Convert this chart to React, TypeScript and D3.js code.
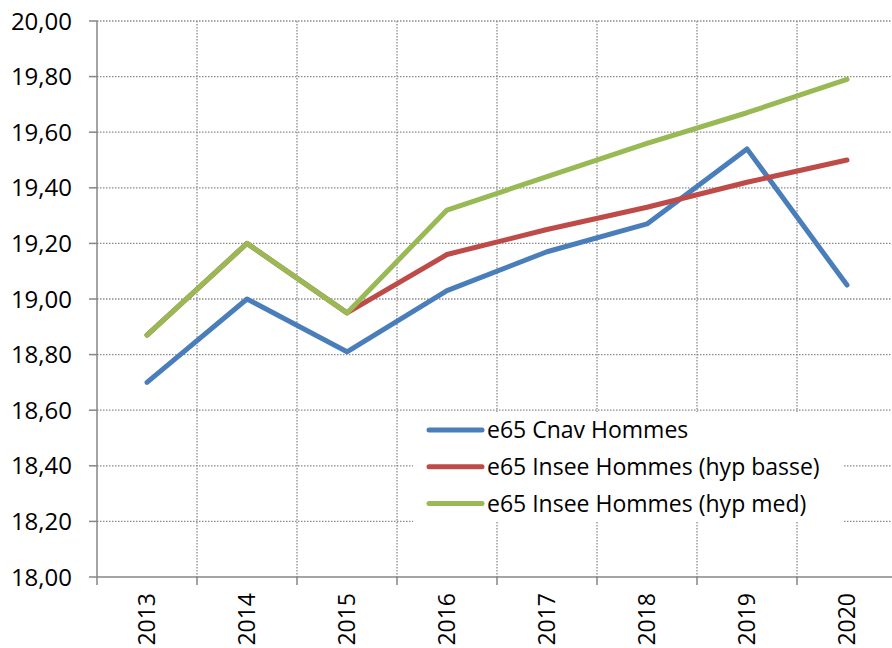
import * as d3 from "d3";
import React, { useEffect, useRef } from "react";

const years = ["2013", "2014", "2015", "2016", "2017", "2018", "2019", "2020"];
const cnavHommes = [18.7, 19.0, 18.81, 19.03, 19.17, 19.27, 19.54, 19.05];
const inseeBasse = [18.87, 19.2, 18.95, 19.16, 19.25, 19.33, 19.42, 19.5];
const inseeMed = [18.87, 19.2, 18.95, 19.32, 19.44, 19.56, 19.67, 19.79];
const yTicks = [18.0, 18.2, 18.4, 18.6, 18.8, 19.0, 19.2, 19.4, 19.6, 19.8, 20.0];
const seriesNames = [
  "e65 Cnav Hommes",
  "e65 Insee Hommes (hyp basse)",
  "e65 Insee Hommes (hyp med)",
];
const seriesColors = ["#4A7EBB", "#BE4B48", "#98B954"];

export default function App() {
  const ref = useRef<SVGSVGElement>(null);

  const width = 892,
    height = 648;
  const plot = { left: 97, right: 897, top: 21, bottom: 577 };
  const font = "'Open Sans', Lato, sans-serif";
  const axisColor = "#868686";

  useEffect(() => {
    const svg = d3.select(ref.current);
    svg.selectAll("*").remove();

    const x = d3.scaleBand().domain(years).range([plot.left, plot.right]).padding(0);
    const y = d3.scaleLinear().domain([18, 20]).range([plot.bottom, plot.top]);
    const cx = (yr: string) => (x(yr) as number) + x.bandwidth() / 2;

    // horizontal grid
    svg
      .append("g")
      .selectAll("line")
      .data(yTicks.slice(1))
      .join("line")
      .attr("x1", plot.left)
      .attr("x2", plot.right)
      .attr("y1", (d) => y(d))
      .attr("y2", (d) => y(d))
      .attr("stroke", "#8c8c8c")
      .attr("stroke-width", 1.3)
      .attr("stroke-dasharray", "1.5,1.5");

    // vertical grid at category boundaries
    svg
      .append("g")
      .selectAll("line")
      .data(years.slice(1))
      .join("line")
      .attr("x1", (d) => x(d) as number)
      .attr("x2", (d) => x(d) as number)
      .attr("y1", plot.top)
      .attr("y2", plot.bottom)
      .attr("stroke", "#8c8c8c")
      .attr("stroke-width", 1.3)
      .attr("stroke-dasharray", "1.5,1.5");

    // y axis
    svg
      .append("line")
      .attr("x1", plot.left)
      .attr("x2", plot.left)
      .attr("y1", plot.top)
      .attr("y2", plot.bottom + 8)
      .attr("stroke", axisColor)
      .attr("stroke-width", 1.5);
    svg
      .append("g")
      .selectAll("line")
      .data(yTicks)
      .join("line")
      .attr("x1", plot.left - 8)
      .attr("x2", plot.left)
      .attr("y1", (d) => y(d))
      .attr("y2", (d) => y(d))
      .attr("stroke", axisColor)
      .attr("stroke-width", 1.5);
    svg
      .append("g")
      .selectAll("text")
      .data(yTicks)
      .join("text")
      .attr("x", 72)
      .attr("y", (d) => y(d))
      .attr("dy", "0.36em")
      .attr("text-anchor", "end")
      .style("font-family", font)
      .style("font-size", "24px")
      .attr("fill", "#000")
      .text((d) => d.toFixed(2).replace(".", ","));

    // x axis
    svg
      .append("line")
      .attr("x1", plot.left)
      .attr("x2", plot.right)
      .attr("y1", plot.bottom)
      .attr("y2", plot.bottom)
      .attr("stroke", axisColor)
      .attr("stroke-width", 1.5);
    svg
      .append("g")
      .selectAll("line")
      .data(years.slice(1))
      .join("line")
      .attr("x1", (d) => x(d) as number)
      .attr("x2", (d) => x(d) as number)
      .attr("y1", plot.bottom)
      .attr("y2", plot.bottom + 8)
      .attr("stroke", axisColor)
      .attr("stroke-width", 1.5);
    svg
      .append("g")
      .selectAll("text")
      .data(years)
      .join("text")
      .attr("transform", (d) => `translate(${cx(d)},${plot.bottom + 16}) rotate(-90)`)
      .attr("dy", "0.36em")
      .attr("text-anchor", "end")
      .style("font-family", font)
      .style("font-size", "23px")
      .attr("fill", "#000")
      .text((d) => d);

    // lines
    const allSeries = [cnavHommes, inseeBasse, inseeMed];
    const line = d3
      .line<number>()
      .x((_, i) => cx(years[i]))
      .y((d) => y(d));

    allSeries.forEach((s, i) => {
      svg
        .append("path")
        .datum(s)
        .attr("d", line)
        .attr("fill", "none")
        .attr("stroke", seriesColors[i])
        .attr("stroke-width", 5)
        .attr("stroke-linecap", "round")
        .attr("stroke-linejoin", "round");
    });

    // legend
    const legend = svg.append("g");
    legend
      .append("rect")
      .attr("x", 413)
      .attr("y", 412)
      .attr("width", 430)
      .attr("height", 110)
      .attr("fill", "#fff");
    seriesNames.forEach((name, i) => {
      const ly = 430 + i * 36.7;
      legend
        .append("line")
        .attr("x1", 429)
        .attr("x2", 482)
        .attr("y1", ly)
        .attr("y2", ly)
        .attr("stroke", seriesColors[i])
        .attr("stroke-width", 5)
        .attr("stroke-linecap", "round");
      legend
        .append("text")
        .attr("x", 487)
        .attr("y", ly)
        .attr("dy", "0.36em")
        .style("font-family", font)
        .style("font-size", "23px")
        .attr("fill", "#000")
        .text(name);
    });
  }, []);

  return (
    <div>
      <svg
        ref={ref}
        width={width}
        height={height}
        style={{ position: "absolute", left: 0, top: 0, background: "#fff" }}
      ></svg>
    </div>
  );
}
